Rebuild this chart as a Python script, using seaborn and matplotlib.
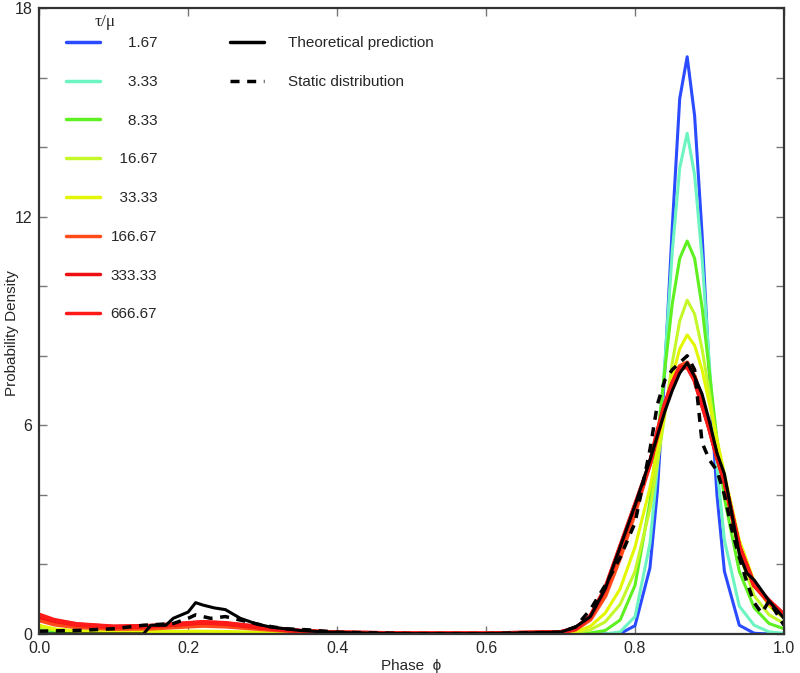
import pandas as pd
import seaborn as sns
import matplotlib.pyplot as plt
from matplotlib.lines import Line2D
from matplotlib.ticker import MultipleLocator

# Phase grid shared by the simulated curves
phase = [0.0, 0.02, 0.05, 0.1, 0.15, 0.2, 0.22, 0.25, 0.3, 0.35, 0.4, 0.5, 0.6,
         0.7, 0.72, 0.74, 0.76, 0.78, 0.80, 0.82, 0.83, 0.84, 0.85, 0.86, 0.87,
         0.88, 0.89, 0.90, 0.91, 0.92, 0.94, 0.96, 0.98, 1.0]

tau_labels = ['1.67', '3.33', '8.33', '16.67', '33.33', '166.67', '333.33', '666.67']
tau_colors = ['#2a4bff', '#6cf5c0', '#5ef020', '#c4f82a', '#e2f700', '#ff4a1a', '#ee1010', '#ff1a1a']

dens_1_67 = [0, 0, 0, 0, 0, 0, 0, 0, 0, 0, 0, 0, 0,
             0, 0, 0, 0, 0.01, 0.24, 1.9, 4.1, 7.6, 11.7, 15.4, 16.6,
             14.9, 11.5, 7.4, 4.0, 1.8, 0.25, 0.02, 0, 0]
dens_3_33 = [0.02, 0.01, 0, 0, 0, 0, 0, 0, 0, 0, 0, 0, 0,
             0, 0, 0, 0, 0.06, 0.5, 2.6, 4.8, 7.8, 11.0, 13.4, 14.4,
             13.2, 10.8, 7.7, 4.8, 2.7, 0.8, 0.25, 0.06, 0.02]
dens_8_33 = [0.15, 0.08, 0.04, 0.02, 0.02, 0.02, 0.02, 0.02, 0.01, 0.01, 0, 0, 0,
             0, 0, 0.03, 0.1, 0.4, 1.4, 3.8, 5.6, 7.6, 9.5, 10.8, 11.3,
             10.8, 9.4, 7.5, 5.6, 3.9, 1.8, 0.75, 0.3, 0.15]
dens_16_67 = [0.2, 0.12, 0.07, 0.05, 0.05, 0.06, 0.06, 0.05, 0.04, 0.02, 0.01, 0, 0,
              0.01, 0.03, 0.12, 0.35, 0.85, 1.8, 3.6, 4.9, 6.3, 7.8, 9.0, 9.6,
              9.2, 8.2, 6.9, 5.5, 4.3, 2.3, 1.1, 0.55, 0.3]
dens_33_33 = [0.25, 0.15, 0.09, 0.07, 0.07, 0.08, 0.08, 0.07, 0.05, 0.03, 0.01, 0, 0,
              0.02, 0.06, 0.22, 0.6, 1.3, 2.5, 4.2, 5.3, 6.4, 7.4, 8.2, 8.6,
              8.3, 7.6, 6.6, 5.6, 4.6, 2.7, 1.5, 0.8, 0.45]
dens_166_67 = [0.4, 0.28, 0.2, 0.15, 0.16, 0.22, 0.24, 0.22, 0.14, 0.07, 0.03, 0.01, 0.01,
               0.04, 0.13, 0.42, 1.1, 2.2, 3.5, 4.9, 5.7, 6.5, 7.2, 7.7, 7.8,
               7.4, 6.7, 5.9, 5.1, 4.4, 2.5, 1.4, 0.9, 0.55]
dens_333_33 = [0.5, 0.38, 0.27, 0.2, 0.22, 0.3, 0.33, 0.3, 0.18, 0.08, 0.04, 0.01, 0.01,
               0.05, 0.15, 0.5, 1.3, 2.5, 3.7, 4.9, 5.8, 6.6, 7.2, 7.6, 7.7,
               7.3, 6.6, 5.9, 5.1, 4.4, 2.5, 1.4, 0.95, 0.55]
dens_666_67 = [0.55, 0.4, 0.28, 0.21, 0.23, 0.31, 0.34, 0.31, 0.19, 0.09, 0.04, 0.01, 0.01,
               0.05, 0.16, 0.5, 1.3, 2.5, 3.7, 4.9, 5.8, 6.6, 7.2, 7.65, 7.7,
               7.3, 6.6, 5.9, 5.1, 4.4, 2.5, 1.4, 0.95, 0.55]
tau_dens = [dens_1_67, dens_3_33, dens_8_33, dens_16_67, dens_33_33,
            dens_166_67, dens_333_33, dens_666_67]

# Theoretical prediction
phase_theory = [0.0, 0.1, 0.14, 0.15, 0.17, 0.18, 0.2, 0.21, 0.22, 0.235, 0.25, 0.27,
                0.29, 0.31, 0.35, 0.39, 0.45, 0.5, 0.6, 0.7, 0.72, 0.74, 0.76, 0.78,
                0.80, 0.82, 0.84, 0.85, 0.86, 0.87, 0.88, 0.89, 0.90, 0.91, 0.92,
                0.94, 0.95, 0.96, 0.97, 0.98, 0.99, 1.0]
dens_theory = [0.0, 0.0, 0.0, 0.25, 0.25, 0.45, 0.63, 0.9, 0.83, 0.75, 0.7, 0.45,
               0.3, 0.2, 0.1, 0.05, 0.02, 0.01, 0.01, 0.05, 0.2, 0.5, 1.3, 2.5,
               3.7, 5.0, 6.4, 7.0, 7.5, 7.8, 7.4, 6.9, 6.1, 5.2, 4.6,
               2.3, 1.75, 1.55, 1.25, 0.95, 0.7, 0.45]

# Static distribution
phase_static = [0.0, 0.05, 0.1, 0.14, 0.18, 0.2, 0.21, 0.23, 0.25, 0.28, 0.3, 0.33,
                0.36, 0.4, 0.5, 0.6, 0.7, 0.72, 0.74, 0.76, 0.78, 0.80, 0.82, 0.83,
                0.84, 0.85, 0.86, 0.87, 0.88, 0.89, 0.90, 0.91, 0.92, 0.93, 0.94,
                0.95, 0.96, 0.97, 0.98, 0.99, 1.0]
dens_static = [0.08, 0.1, 0.15, 0.25, 0.3, 0.45, 0.55, 0.45, 0.5, 0.35, 0.25, 0.15,
               0.12, 0.05, 0.01, 0.01, 0.05, 0.2, 0.7, 1.4, 2.2, 3.2, 5.3, 6.6,
               7.3, 7.6, 7.8, 8.0, 7.6, 5.5, 5.0, 4.7, 4.0, 3.0, 2.2,
               1.5, 0.9, 0.6, 0.95, 0.6, 0.25]

sns.set_style('ticks')
plt.rcParams['font.family'] = ['Liberation Sans', 'DejaVu Sans']
plt.rcParams['font.size'] = 11

fig = plt.figure(figsize=(8, 6.73), dpi=100)
ax = fig.add_axes([0.049, 0.058, 0.931, 0.930])

for lab, col, dens in zip(tau_labels, tau_colors, tau_dens):
    df = pd.DataFrame({'phase': phase, 'density': dens})
    lw = 3.2 if float(lab) > 100 else 2.2
    sns.lineplot(data=df, x='phase', y='density', color=col, linewidth=lw,
                 sort=False, estimator=None, ax=ax)

dashes = (0, (2.6, 2.2))
sns.lineplot(x=phase_theory, y=dens_theory, color='black', linewidth=2.2,
             sort=False, estimator=None, ax=ax)
sns.lineplot(x=phase_static, y=dens_static, color='black', linewidth=2.5,
             linestyle=dashes, sort=False, estimator=None, ax=ax)

ax.set_xlim(0, 1)
ax.set_ylim(0, 18)
ax.set_xticks([0.0, 0.2, 0.4, 0.6, 0.8, 1.0])
ax.set_yticks([0, 6, 12, 18])
ax.yaxis.set_minor_locator(MultipleLocator(2))
ax.tick_params(which='both', direction='in', top=True, right=True, length=6,
               width=1, color='#777777', labelsize=11.5, pad=5)
for s in ax.spines.values():
    s.set_linewidth(1.6)
    s.set_color('#333333')

ax.set_xlabel('Phase  \u03d5', fontsize=11, labelpad=2)
ax.set_ylabel('Probability Density', fontsize=11)
ax.yaxis.set_label_coords(-0.027, 0.48)

# Legend for tau/mu, labels right-aligned with figure spaces
fs = '\u2007'
width = max(len(l) for l in tau_labels)
handles = [Line2D([], [], color=c, linewidth=2.5) for c in tau_colors]
labels = [fs * (width - len(l)) + l for l in tau_labels]
leg1 = ax.legend(handles, labels, loc='upper left', bbox_to_anchor=(0.018, 0.977),
                 frameon=False, fontsize=11, handlelength=2.2, handletextpad=0.7,
                 labelspacing=1.62)
ax.add_artist(leg1)
ax.text(0.0886, 0.978, '\u03c4/\u03bc', transform=ax.transAxes, ha='center',
        va='center', fontsize=12.5, family=['Liberation Serif', 'DejaVu Serif'])

handles2 = [Line2D([], [], color='black', linewidth=2.5),
            Line2D([], [], color='black', linewidth=2.5, linestyle=dashes)]
ax.legend(handles2, ['Theoretical prediction', 'Static distribution'],
          loc='upper left', bbox_to_anchor=(0.238, 0.977), frameon=False, fontsize=11,
          handlelength=2.2, handletextpad=1.55, labelspacing=1.62)

fig.savefig('out.png', dpi=100)
